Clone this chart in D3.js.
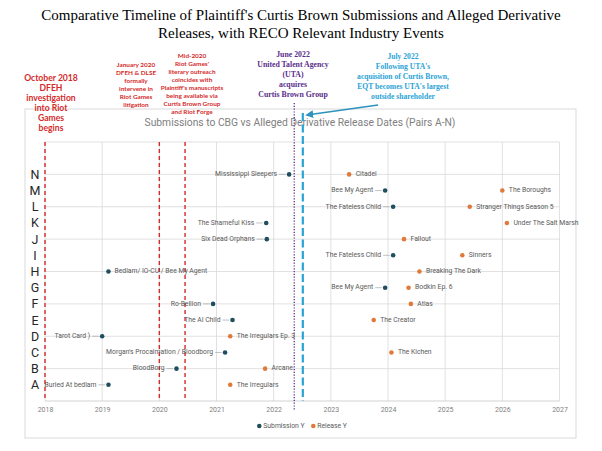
<!DOCTYPE html>
<html>
<head>
<meta charset="utf-8">
<script src="https://cdn.jsdelivr.net/npm/d3@7"></script>
<style>
  body { margin: 0; background: #fff; }
  svg { display: block; }
</style>
</head>
<body>
<div id="plot"></div>
<script>
// Data
const pairs = ["A", "B", "C", "D", "E", "F", "G", "H", "I", "J", "K", "L", "M", "N"];
const submissionTitles = ["Buried At bedlam", "BloodBorg", "Morgan's Procalmation / Bloodborg", "Tarot Card )",
  "The AI Child", "Ro-Bellion", "Bee My Agent", "Bedlam/ IO-CU / Bee My Agent", "The Fateless Child",
  "Six Dead Orphans", "The Shameful Kiss", "The Fateless Child", "Bee My Agent", "Mississippi Sleepers"];
const submissionYears = [2019.11, 2020.3, 2021.15, 2019.0, 2021.28, 2020.94, 2023.95, 2019.11, 2024.09,
  2021.88, 2021.87, 2024.09, 2023.95, 2022.27];
const releaseTitles = ["The Irregulars", "Arcane", "The Kichen", "The Irregulars Ep. 3", "The Creator", "Atlas",
  "Bodkin Ep. 6", "Breaking The Dark", "Sinners", "Fallout", "Under The Salt Marsh", "Stranger Things Season 5",
  "The Boroughs", "Citadel"];
const releaseYears = [2021.24, 2021.85, 2024.06, 2021.24, 2023.75, 2024.4, 2024.36, 2024.55, 2025.3, 2024.28,
  2026.08, 2025.43, 2026.0, 2023.32];
const yearTicks = [2018, 2019, 2020, 2021, 2022, 2023, 2024, 2025, 2026, 2027];

// Event markers
const redEventYears = [2018.0, 2020.0, 2020.45];
const utaYear = 2022.36;
const eqtYear = 2022.51;

const redNotes = [
  ["October 2018", "DFEH", "investigation", "into Riot", "Games", "begins"],
  ["January 2020", "DFEH & DLSE", "formally", "intervene in", "Riot Games", "litigation"],
  ["Mid-2020", "Riot Games'", "literary outreach", "coincides with", "Plaintiff's manuscripts",
    "being available via", "Curtis Brown Group", "and Riot Forge"]
];
const utaNote = ["June 2022", "United Talent Agency", "(UTA)", "acquires", "Curtis Brown Group"];
const eqtNote = ["July 2022", "Following UTA's", "acquisition of Curtis Brown,", "EQT becomes UTA's largest", "outside shareholder"];

const titleLines = ["Comparative Timeline of Plaintiff's Curtis Brown Submissions and Alleged Derivative",
  "Releases, with RECO Relevant Industry Events"];
const chartTitle = "Submissions to CBG vs Alleged Derivative Release Dates (Pairs A-N)";

const W = 602, H = 451;
const plot = { left: 45, right: 559.5, top: 142, bottom: 401 };
const subColor = "#1f4e5f", relColor = "#e07a3c";
const redColor = "#d42a2a", purple = "#5a2e8a", blue = "#2aa3d6";
const labelFont = "Roboto, 'Noto Sans', sans-serif";

const svg = d3.select("#plot").append("svg").attr("width", W).attr("height", H);
svg.append("rect").attr("width", W).attr("height", H).attr("fill", "#fff");

const x = d3.scaleLinear().domain([2018, 2027]).range([plot.left, plot.right]);
const y = d3.scaleLinear().domain([0, 16]).range([plot.bottom, plot.top]);

// Main title
svg.append("g").selectAll("text").data(titleLines).join("text")
  .attr("x", 301).attr("y", (d, i) => 20 + i * 18)
  .attr("text-anchor", "middle")
  .attr("font-family", "'Liberation Serif', 'Times New Roman', serif")
  .attr("font-size", 15).attr("fill", "#000")
  .text(d => d);

// Chart frame
svg.append("rect").attr("x", 25).attr("y", 109).attr("width", 551).attr("height", 329)
  .attr("fill", "#fff").attr("stroke", "#d9d9d9").attr("stroke-width", 1);

svg.append("text").attr("x", 300).attr("y", 126)
  .attr("text-anchor", "middle")
  .attr("font-family", labelFont).attr("font-size", 10.3).attr("fill", "#808080")
  .text(chartTitle);

// Grid
const grid = svg.append("g");
grid.selectAll("line.v").data(yearTicks).join("line").attr("class", "v")
  .attr("x1", d => x(d)).attr("x2", d => x(d))
  .attr("y1", plot.top).attr("y2", plot.bottom)
  .attr("stroke", "#d9d9d9").attr("stroke-width", 0.8);
grid.selectAll("line.h").data(d3.range(2, 17, 2)).join("line").attr("class", "h")
  .attr("x1", plot.left).attr("x2", plot.right)
  .attr("y1", d => y(d)).attr("y2", d => y(d))
  .attr("stroke", "#d9d9d9").attr("stroke-width", 0.8);
grid.append("line")
  .attr("x1", plot.left).attr("x2", plot.right)
  .attr("y1", plot.bottom).attr("y2", plot.bottom)
  .attr("stroke", "#c8c8c8").attr("stroke-width", 0.8);

// X axis
const xAxis = svg.append("g")
  .attr("transform", `translate(0, ${plot.bottom})`)
  .call(d3.axisBottom(x).tickValues(yearTicks).tickFormat(d3.format("d")).tickSize(0).tickPadding(6));
xAxis.select(".domain").remove();
xAxis.selectAll("text").attr("font-family", labelFont).attr("font-size", 7).attr("fill", "#7f7f7f");

// Y axis letters
const yAxis = svg.append("g")
  .attr("transform", `translate(${plot.left}, 0)`)
  .call(d3.axisLeft(y).tickValues(d3.range(1, 15)).tickFormat(d => pairs[d - 1]).tickSize(0).tickPadding(6));
yAxis.select(".domain").remove();
yAxis.selectAll("text").attr("text-anchor", "middle").attr("x", -10)
  .attr("font-family", labelFont).attr("font-size", 12.5).attr("fill", "#262626");

// Event lines
svg.selectAll("line.red").data(redEventYears).join("line").attr("class", "red")
  .attr("x1", d => x(d)).attr("x2", d => x(d))
  .attr("y1", plot.top).attr("y2", plot.bottom)
  .attr("stroke", redColor).attr("stroke-width", 1.4).attr("stroke-dasharray", "4,3");

svg.append("line")
  .attr("x1", x(utaYear)).attr("x2", x(utaYear)).attr("y1", 103).attr("y2", 410)
  .attr("stroke", purple).attr("stroke-width", 1.3).attr("stroke-dasharray", "1.2,1.6");

svg.append("line")
  .attr("x1", x(eqtYear)).attr("x2", x(eqtYear)).attr("y1", 113).attr("y2", plot.bottom)
  .attr("stroke", blue).attr("stroke-width", 2.2).attr("stroke-dasharray", "8,3.5");

// Arrow
svg.append("defs").append("marker")
  .attr("id", "arrow").attr("viewBox", "0 0 10 10").attr("refX", 8).attr("refY", 5)
  .attr("markerWidth", 5).attr("markerHeight", 5).attr("orient", "auto")
  .append("path").attr("d", "M0,0 L10,5 L0,10 Z").attr("fill", "#2b93bd");
svg.append("line")
  .attr("x1", 378).attr("y1", 105).attr("x2", x(eqtYear) + 4).attr("y2", 115)
  .attr("stroke", "#2b93bd").attr("stroke-width", 1.6).attr("marker-end", "url(#arrow)");

// Annotations
function note(lines, cx, top, step, size, color, family) {
  svg.append("g").selectAll("text").data(lines).join("text")
    .attr("x", cx).attr("y", (d, i) => top + i * step)
    .attr("text-anchor", "middle").attr("dominant-baseline", "middle")
    .attr("font-family", family).attr("font-weight", "bold")
    .attr("font-size", size).attr("fill", color)
    .text(d => d);
}
const sansBold = "Lato, 'Open Sans', sans-serif";
const serifBold = "'Liberation Serif', 'Times New Roman', serif";
note(redNotes[0], 51, 78.3, 10, 8.6, redColor, sansBold);
note(redNotes[1], 136, 65, 8, 6.4, redColor, sansBold);
note(redNotes[2], 192, 56, 8, 6.4, redColor, sansBold);
note(utaNote, 293, 55.5, 10, 7.8, purple, serifBold);
note(eqtNote, 403, 57, 10, 7.6, blue, serifBold);

// Points and labels
const rows = pairs.map((p, i) => ({
  row: i + 1,
  sub: submissionYears[i], subTitle: submissionTitles[i],
  rel: releaseYears[i], relTitle: releaseTitles[i]
}));

const marks = svg.append("g");
// submission labels sit left of the point; the Bedlam row sits right
rows.forEach(d => {
  const cx = x(d.sub), cy = y(d.row);
  const right = d.subTitle.startsWith("Bedlam");
  if (!right) {
    marks.append("line").attr("x1", cx - 10).attr("x2", cx - 3.5)
      .attr("y1", cy).attr("y2", cy).attr("stroke", "#a6a6a6").attr("stroke-width", 0.7);
  }
  marks.append("text")
    .attr("x", right ? cx + 6 : cx - 12).attr("y", cy)
    .attr("text-anchor", right ? "start" : "end").attr("dominant-baseline", "middle")
    .attr("font-family", labelFont).attr("font-size", 6.8).attr("fill", "#595959")
    .text(d.subTitle);
  marks.append("text")
    .attr("x", x(d.rel) + 6.5).attr("y", cy)
    .attr("dominant-baseline", "middle")
    .attr("font-family", labelFont).attr("font-size", 6.8).attr("fill", "#595959")
    .text(d.relTitle);
});

marks.selectAll("circle.sub").data(rows).join("circle").attr("class", "sub")
  .attr("cx", d => x(d.sub)).attr("cy", d => y(d.row)).attr("r", 2.3).attr("fill", subColor);
marks.selectAll("circle.rel").data(rows).join("circle").attr("class", "rel")
  .attr("cx", d => x(d.rel)).attr("cy", d => y(d.row)).attr("r", 2.3).attr("fill", relColor);

// Legend
const legend = svg.append("g").attr("transform", "translate(0, 426)");
[["Submission Y", subColor, 259.3], ["Release Y", relColor, 313.3]].forEach(([name, c, lx]) => {
  legend.append("circle").attr("cx", lx).attr("cy", 0).attr("r", 2.3).attr("fill", c);
  legend.append("text").attr("x", lx + 4).attr("y", 0).attr("dominant-baseline", "middle")
    .attr("font-family", labelFont).attr("font-size", 6.8).attr("fill", "#595959").text(name);
});
</script>
</body>
</html>
